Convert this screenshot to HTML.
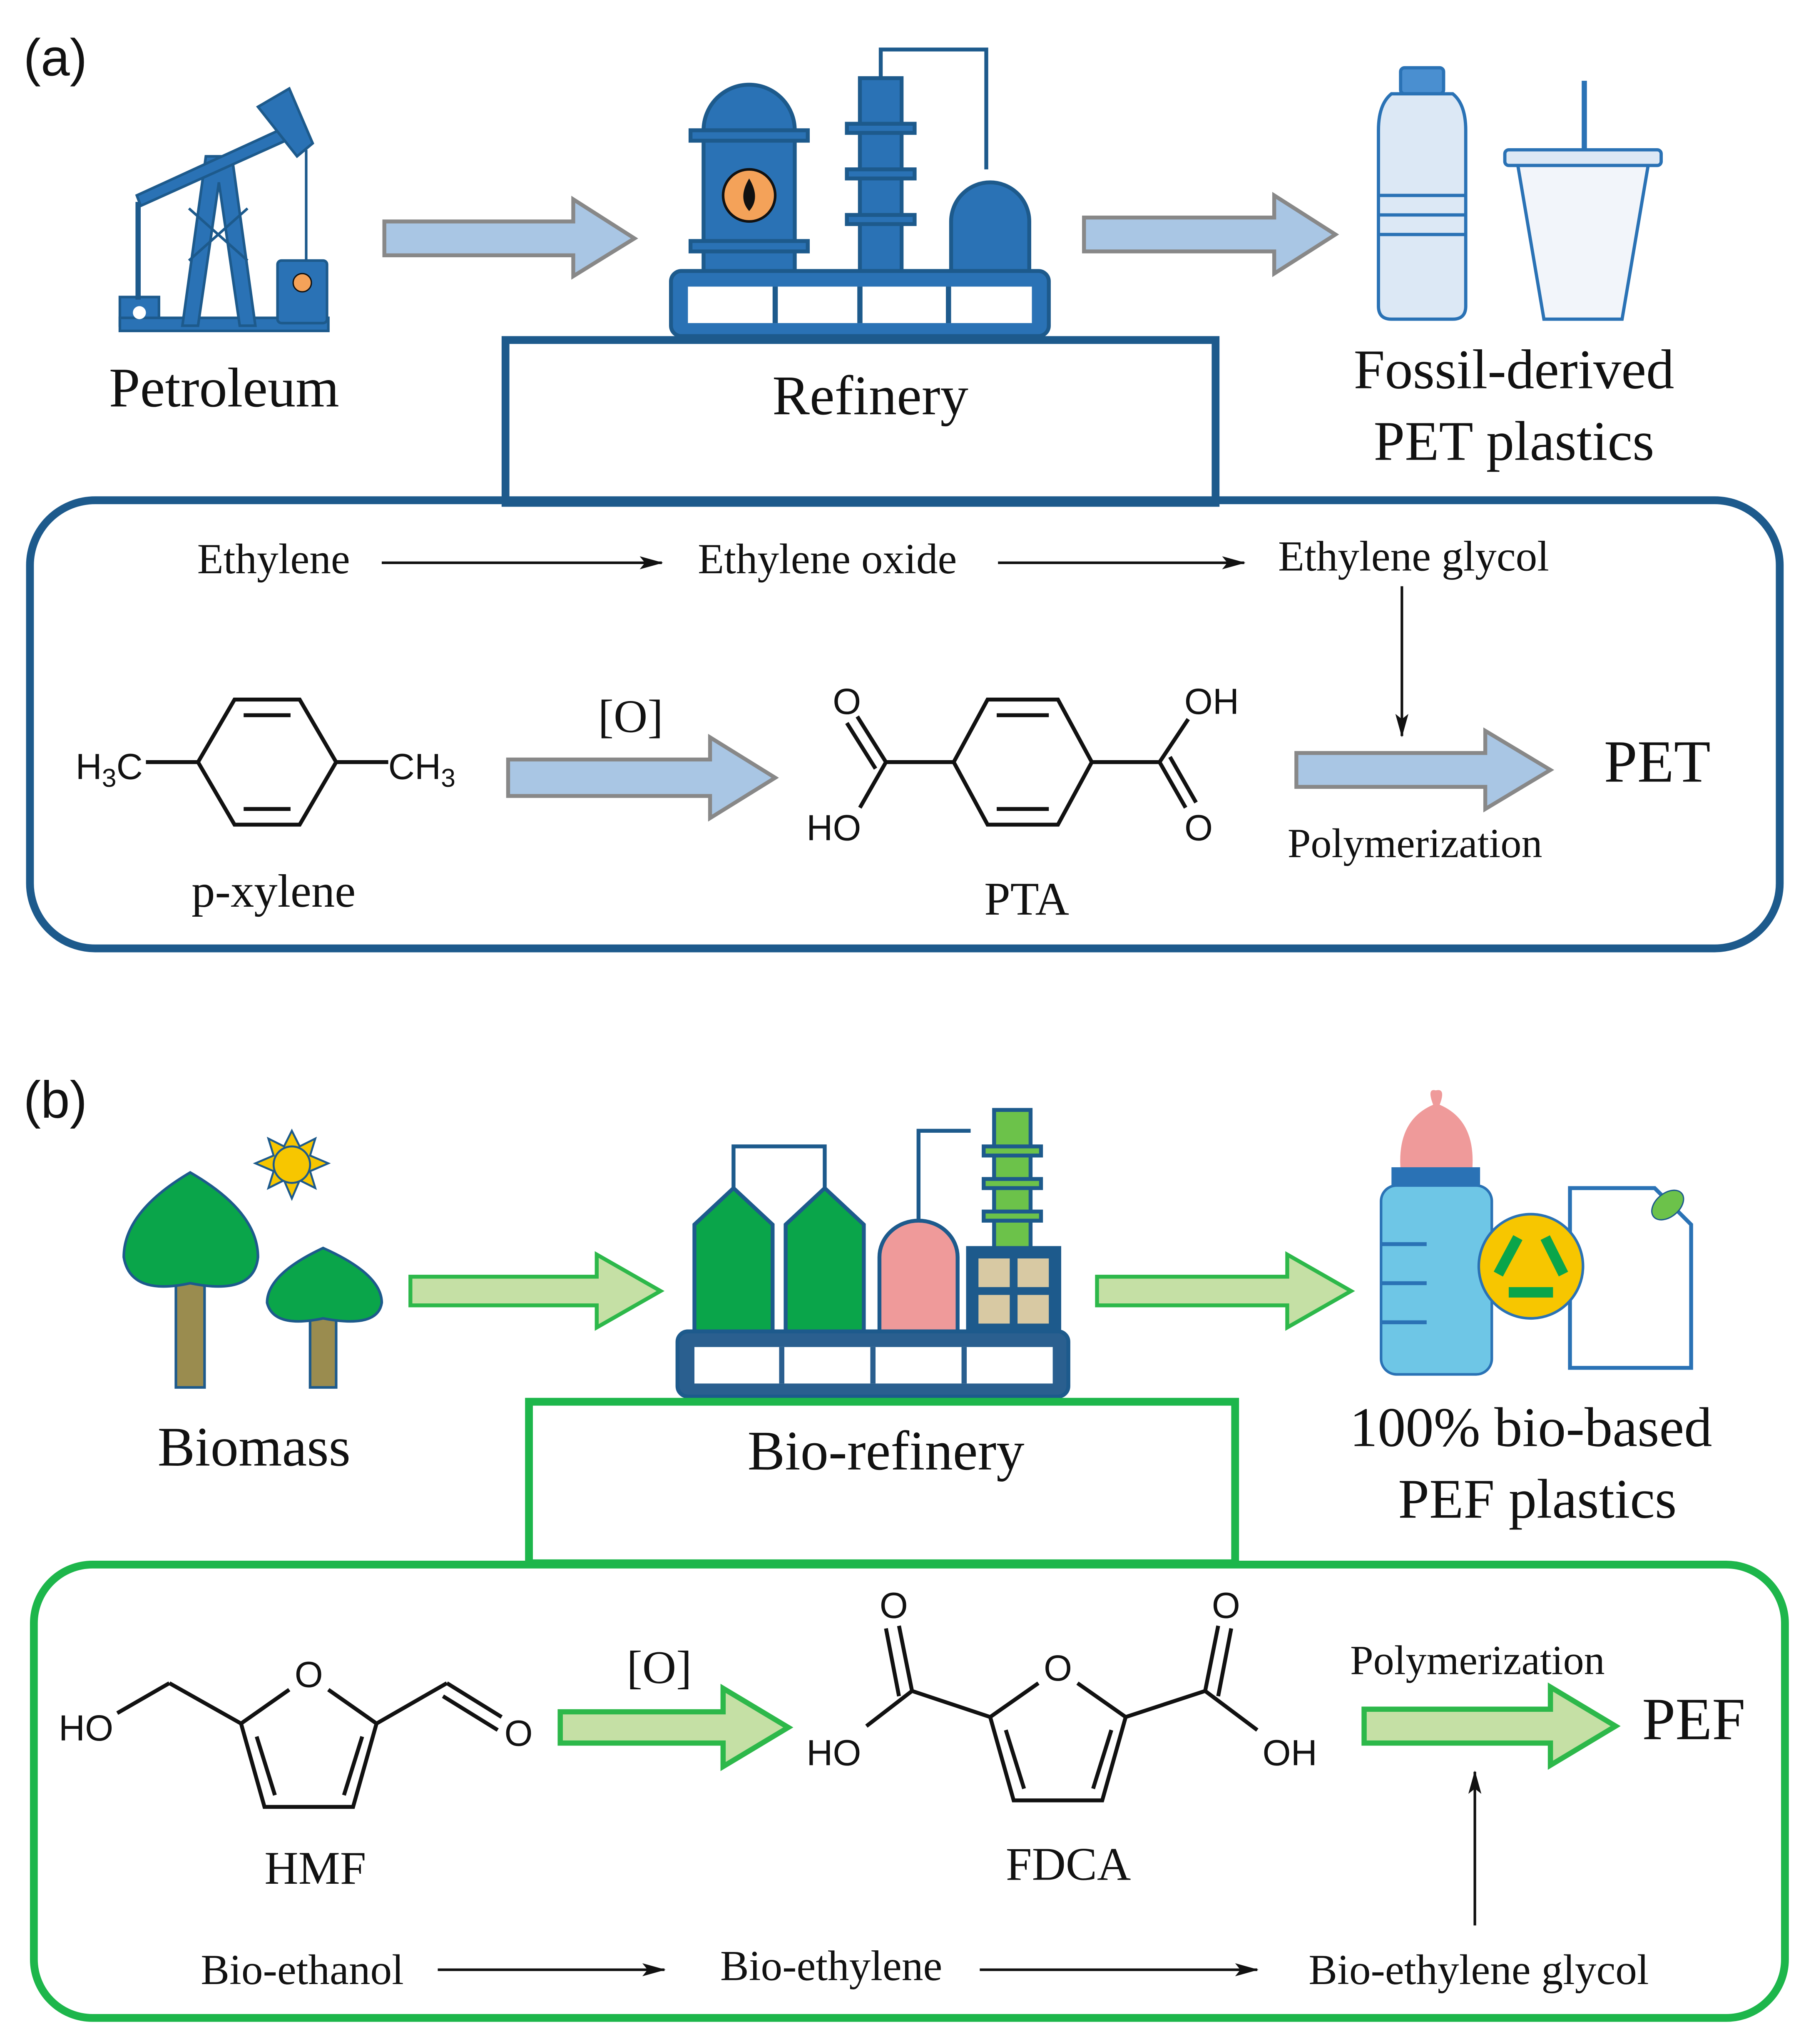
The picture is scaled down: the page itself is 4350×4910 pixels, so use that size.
<!DOCTYPE html>
<html><head><meta charset="utf-8"><style>
html,body{margin:0;padding:0;background:#fff}
svg{display:block}
.s{font-family:"Liberation Serif",serif;fill:#111}
.a{font-family:"Liberation Sans",sans-serif;fill:#111}
</style></head><body>
<svg width="4350" height="4910" viewBox="0 0 1390 1569" preserveAspectRatio="none" xmlns="http://www.w3.org/2000/svg">
<defs>
<marker id="ah" markerWidth="18" markerHeight="10" refX="17" refY="5" orient="auto" markerUnits="userSpaceOnUse"><path d="M0,0 L18,5 L0,10 L4,5 Z" fill="#111"/></marker>
</defs>
<rect width="1390" height="1569" fill="#fff"/>
<!-- (a) -->
<text x="18" y="58" class="a" font-size="40">(a)</text>
<g fill="#2a72b5" stroke="#1d5a8c" stroke-width="2">
<rect x="92" y="228" width="30" height="22"/>
<rect x="92" y="244" width="160" height="10"/>
<polygon points="140,250 158,120 178,120 196,250 184,250 168,140 152,250"/>
<line x1="145" y1="200" x2="190" y2="160"/><line x1="190" y1="200" x2="145" y2="160"/>
<polygon points="105,150 225,95 228,104 108,158"/>
<polygon points="198,82 222,68 240,110 228,120"/>
<line x1="106" y1="155" x2="106" y2="230" stroke-width="4"/>
<line x1="235" y1="115" x2="235" y2="200" stroke-width="2"/>
<rect x="213" y="200" width="38" height="48" rx="3"/>
</g>
<circle cx="232" cy="217" r="7" fill="#f4a259" stroke="#111"/>
<circle cx="107" cy="240" r="5" fill="#fff"/>
<polygon points="295,170 440,170 440,153 487,183 440,212 440,196 295,196" fill="#a9c6e4" stroke="#888" stroke-width="3"/>
<g fill="#2a72b5" stroke="#1d5a8c" stroke-width="3">
<path d="M540,210 V100 A35,35 0 0 1 610,100 V210 Z"/>
<rect x="530" y="100" width="90" height="8"/><rect x="530" y="185" width="90" height="8"/>
<rect x="660" y="60" width="32" height="150"/>
<rect x="650" y="95" width="52" height="7"/><rect x="650" y="130" width="52" height="7"/><rect x="650" y="165" width="52" height="7"/>
<path d="M730,210 V170 A30,30 0 1 1 790,170 V210 Z"/>
<rect x="515" y="208" width="290" height="50" rx="8"/>
</g>
<path d="M676,60 V38 H757 V130" fill="none" stroke="#1d5a8c" stroke-width="3"/>
<rect x="528" y="220" width="264" height="28" fill="#fff"/>
<g stroke="#1d5a8c" stroke-width="4"><line x1="595" y1="220" x2="595" y2="248"/><line x1="660" y1="220" x2="660" y2="248"/><line x1="728" y1="220" x2="728" y2="248"/></g>
<circle cx="575" cy="150" r="20" fill="#f4a259" stroke="#111" stroke-width="2"/>
<path d="M575,137 Q584,152 575,162 Q566,152 575,137Z" fill="#111"/>
<polygon points="832,167 978,167 978,150 1025,180 978,210 978,193 832,193" fill="#a9c6e4" stroke="#888" stroke-width="3"/>
<g fill="#dce8f5" stroke="#2a72b5" stroke-width="2.5">
<rect x="1075" y="52" width="33" height="20" rx="3" fill="#4a8fd0"/>
<path d="M1068,72 H1115 Q1125,80 1125,100 V235 Q1125,245 1115,245 H1068 Q1058,245 1058,235 V100 Q1058,80 1068,72Z"/>
<line x1="1058" y1="150" x2="1125" y2="150"/><line x1="1058" y1="165" x2="1125" y2="165"/><line x1="1058" y1="180" x2="1125" y2="180"/>
<rect x="1155" y="115" width="120" height="12" rx="3"/>
<polygon points="1165,127 1265,127 1245,245 1185,245" fill="#f2f5fa"/>
</g>
<line x1="1216" y1="62" x2="1216" y2="115" stroke="#2a72b5" stroke-width="4"/>
<text x="172" y="312" class="s" font-size="43" text-anchor="middle">Petroleum</text>
<rect x="388" y="261" width="545" height="125" fill="none" stroke="#1d5a8c" stroke-width="6"/>
<text x="668" y="318" class="s" font-size="43" text-anchor="middle">Refinery</text>
<text x="1162" y="298" class="s" font-size="43" text-anchor="middle">Fossil-derived</text>
<text x="1162" y="353" class="s" font-size="43" text-anchor="middle">PET plastics</text>
<rect x="23" y="384" width="1343" height="344" rx="50" fill="none" stroke="#1d5a8c" stroke-width="6"/>
<text x="210" y="440" class="s" font-size="33" text-anchor="middle">Ethylene</text>
<line x1="293" y1="432" x2="508" y2="432" stroke="#111" stroke-width="2" marker-end="url(#ah)"/>
<text x="635" y="440" class="s" font-size="33" text-anchor="middle">Ethylene oxide</text>
<line x1="766" y1="432" x2="955" y2="432" stroke="#111" stroke-width="2" marker-end="url(#ah)"/>
<text x="1085" y="438" class="s" font-size="33" text-anchor="middle">Ethylene glycol</text>
<line x1="1076" y1="450" x2="1076" y2="565" stroke="#111" stroke-width="2" marker-end="url(#ah)"/>
<g stroke="#111" stroke-width="3" fill="none">
<polygon points="152,585 180,537 230,537 258,585 230,633 180,633"/>
<line x1="187" y1="549" x2="223" y2="549"/><line x1="187" y1="621" x2="223" y2="621"/>
<line x1="112" y1="585" x2="152" y2="585"/><line x1="258" y1="585" x2="298" y2="585"/>
</g>
<text x="58" y="598" class="a" font-size="28">H<tspan font-size="20" dy="6">3</tspan><tspan dy="-6">C</tspan></text>
<text x="298" y="598" class="a" font-size="28">CH<tspan font-size="20" dy="6">3</tspan></text>
<text x="210" y="696" class="s" font-size="36" text-anchor="middle">p-xylene</text>
<text x="484" y="562" class="s" font-size="36" text-anchor="middle">[O]</text>
<polygon points="390,583 545,583 545,566 595,597 545,628 545,611 390,611" fill="#a9c6e4" stroke="#888" stroke-width="3"/>
<g stroke="#111" stroke-width="3" fill="none">
<polygon points="732,585 758,537 812,537 838,585 812,633 758,633"/>
<line x1="765" y1="549" x2="805" y2="549"/><line x1="765" y1="621" x2="805" y2="621"/>
<line x1="732" y1="585" x2="680" y2="585"/><line x1="680" y1="585" x2="658" y2="550"/><line x1="672" y1="590" x2="650" y2="555"/><line x1="680" y1="585" x2="660" y2="620"/>
<line x1="838" y1="585" x2="890" y2="585"/><line x1="890" y1="585" x2="912" y2="552"/><line x1="890" y1="585" x2="910" y2="620"/><line x1="898" y1="581" x2="918" y2="616"/>
</g>
<text x="650" y="548" class="a" font-size="28" text-anchor="middle">O</text>
<text x="640" y="645" class="a" font-size="28" text-anchor="middle">HO</text>
<text x="930" y="548" class="a" font-size="28" text-anchor="middle">OH</text>
<text x="920" y="645" class="a" font-size="28" text-anchor="middle">O</text>
<text x="788" y="702" class="s" font-size="36" text-anchor="middle">PTA</text>
<polygon points="995,578 1140,578 1140,561 1190,591 1140,621 1140,604 995,604" fill="#a9c6e4" stroke="#888" stroke-width="3"/>
<text x="1272" y="600" class="s" font-size="46" text-anchor="middle">PET</text>
<text x="1086" y="658" class="s" font-size="32" text-anchor="middle">Polymerization</text>

<!-- (b) -->
<text x="18" y="858" class="a" font-size="40">(b)</text>
<g stroke="#1d5a8c" stroke-width="2">
<rect x="135" y="970" width="22" height="95" fill="#9a8c4f"/>
<path d="M146,900 Q95,930 95,965 Q100,995 146,985 Q195,995 198,965 Q198,930 146,900Z" fill="#0aa54a"/>
<rect x="238" y="1005" width="20" height="60" fill="#9a8c4f"/>
<path d="M248,958 Q205,978 205,1000 Q210,1020 248,1012 Q290,1020 293,1000 Q293,978 248,958Z" fill="#0aa54a"/>
</g>
<g fill="#f7c600" stroke="#1d5a8c" stroke-width="1.5">
<polygon points="224,868 230,880 242,874 238,887 252,893 238,899 242,912 230,906 224,920 218,906 206,912 210,899 196,893 210,887 206,874 218,880"/>
<circle cx="224" cy="894" r="14"/>
</g>
<polygon points="315,980 458,980 458,963 507,991 458,1019 458,1002 315,1002" fill="#c5e0a5" stroke="#2db84a" stroke-width="3"/>
<path d="M563,940 V880 H633 V940 M705,950 V868 H745" fill="none" stroke="#1d5a8c" stroke-width="3"/>
<g stroke="#1d5a8c" stroke-width="3">
<polygon points="533,940 563,912 593,940 593,1025 533,1025" fill="#0aa54a"/>
<polygon points="603,940 633,912 663,940 663,1025 603,1025" fill="#0aa54a"/>
<path d="M675,1025 V965 A30,28 0 0 1 735,965 V1025Z" fill="#ef9a9a"/>
<rect x="763" y="852" width="28" height="110" fill="#6cc24a"/>
<rect x="755" y="880" width="44" height="7" fill="#6cc24a"/><rect x="755" y="905" width="44" height="7" fill="#6cc24a"/><rect x="755" y="930" width="44" height="7" fill="#6cc24a"/>
<rect x="743" y="958" width="70" height="67" fill="#1d5a8c"/>
<rect x="520" y="1022" width="300" height="50" rx="8" fill="#2a5f8f"/>
</g>
<g fill="#d8c9a3"><rect x="751" y="966" width="24" height="22"/><rect x="781" y="966" width="24" height="22"/><rect x="751" y="994" width="24" height="22"/><rect x="781" y="994" width="24" height="22"/></g>
<rect x="533" y="1034" width="275" height="28" fill="#fff"/>
<g stroke="#2a5f8f" stroke-width="4"><line x1="600" y1="1034" x2="600" y2="1062"/><line x1="670" y1="1034" x2="670" y2="1062"/><line x1="740" y1="1034" x2="740" y2="1062"/></g>
<polygon points="842,980 988,980 988,963 1037,991 988,1019 988,1002 842,1002" fill="#c5e0a5" stroke="#2db84a" stroke-width="3"/>
<path d="M1075,898 Q1072,860 1100,848 Q1095,835 1102,837 Q1110,835 1105,848 Q1133,860 1130,898Z" fill="#ef9a9a"/>
<rect x="1068" y="896" width="68" height="14" fill="#2a72b5"/>
<rect x="1060" y="910" width="85" height="145" rx="12" fill="#6ec6e6" stroke="#2a72b5" stroke-width="2"/>
<g stroke="#2a72b5" stroke-width="3"><line x1="1060" y1="955" x2="1095" y2="955"/><line x1="1060" y1="985" x2="1095" y2="985"/><line x1="1060" y1="1015" x2="1095" y2="1015"/></g>
<path d="M1205,912 H1270 L1298,940 V1050 H1205Z" fill="#fff" stroke="#2a72b5" stroke-width="3"/>
<ellipse cx="1280" cy="925" rx="14" ry="9" transform="rotate(-40 1280 925)" fill="#6cc24a" stroke="#1d5a8c"/>
<circle cx="1175" cy="972" r="40" fill="#f7c600" stroke="#2a72b5" stroke-width="2"/>
<g fill="none" stroke="#0aa54a" stroke-width="8">
<path d="M1165,950 L1150,978"/><path d="M1186,950 L1200,978"/><path d="M1158,992 H1192"/>
</g>
<text x="195" y="1125" class="s" font-size="43" text-anchor="middle">Biomass</text>
<rect x="406" y="1076" width="542" height="124" fill="none" stroke="#1db64b" stroke-width="6"/>
<text x="680" y="1128" class="s" font-size="43" text-anchor="middle">Bio-refinery</text>
<text x="1175" y="1110" class="s" font-size="43" text-anchor="middle">100% bio-based</text>
<text x="1180" y="1165" class="s" font-size="43" text-anchor="middle">PEF plastics</text>
<rect x="26" y="1201" width="1344" height="348" rx="45" fill="none" stroke="#1db64b" stroke-width="6"/>
<g stroke="#111" stroke-width="3" fill="none">
<polyline points="222,1297 185,1323 203,1387 271,1387 289,1323 252,1297"/>
<line x1="197" y1="1333" x2="211" y2="1378"/><line x1="278" y1="1333" x2="264" y2="1378"/>
<line x1="185" y1="1323" x2="130" y2="1292"/><line x1="130" y1="1292" x2="90" y2="1315"/>
<line x1="289" y1="1323" x2="343" y2="1292"/><line x1="343" y1="1292" x2="385" y2="1318"/><line x1="340" y1="1302" x2="382" y2="1328"/>
</g>
<text x="237" y="1295" class="a" font-size="28" text-anchor="middle">O</text>
<text x="66" y="1336" class="a" font-size="28" text-anchor="middle">HO</text>
<text x="398" y="1340" class="a" font-size="28" text-anchor="middle">O</text>
<text x="242" y="1446" class="s" font-size="36" text-anchor="middle">HMF</text>
<text x="506" y="1292" class="s" font-size="36" text-anchor="middle">[O]</text>
<polygon points="430,1314 555,1314 555,1296 605,1326 555,1356 555,1338 430,1338" fill="#c5e0a5" stroke="#2db84a" stroke-width="4"/>
<g stroke="#111" stroke-width="3" fill="none">
<polyline points="797,1292 760,1318 778,1382 846,1382 864,1318 827,1292"/>
<line x1="772" y1="1328" x2="786" y2="1373"/><line x1="853" y1="1328" x2="839" y2="1373"/>
<line x1="760" y1="1318" x2="700" y2="1298"/><line x1="700" y1="1298" x2="665" y2="1325"/><line x1="700" y1="1298" x2="690" y2="1248"/><line x1="690" y1="1302" x2="680" y2="1250"/>
<line x1="864" y1="1318" x2="925" y2="1298"/><line x1="925" y1="1298" x2="965" y2="1328"/><line x1="925" y1="1298" x2="935" y2="1248"/><line x1="935" y1="1302" x2="945" y2="1250"/>
</g>
<text x="812" y="1290" class="a" font-size="28" text-anchor="middle">O</text>
<text x="686" y="1242" class="a" font-size="28" text-anchor="middle">O</text>
<text x="640" y="1355" class="a" font-size="28" text-anchor="middle">HO</text>
<text x="941" y="1242" class="a" font-size="28" text-anchor="middle">O</text>
<text x="990" y="1355" class="a" font-size="28" text-anchor="middle">OH</text>
<text x="820" y="1443" class="s" font-size="36" text-anchor="middle">FDCA</text>
<text x="1134" y="1285" class="s" font-size="32" text-anchor="middle">Polymerization</text>
<polygon points="1047,1312 1190,1312 1190,1295 1240,1325 1190,1355 1190,1338 1047,1338" fill="#c5e0a5" stroke="#2db84a" stroke-width="4"/>
<text x="1300" y="1335" class="s" font-size="46" text-anchor="middle">PEF</text>
<line x1="1132" y1="1478" x2="1132" y2="1360" stroke="#111" stroke-width="2" marker-end="url(#ah)"/>
<text x="232" y="1523" class="s" font-size="33" text-anchor="middle">Bio-ethanol</text>
<line x1="336" y1="1512" x2="510" y2="1512" stroke="#111" stroke-width="2" marker-end="url(#ah)"/>
<text x="638" y="1520" class="s" font-size="33" text-anchor="middle">Bio-ethylene</text>
<line x1="752" y1="1512" x2="965" y2="1512" stroke="#111" stroke-width="2" marker-end="url(#ah)"/>
<text x="1135" y="1523" class="s" font-size="33" text-anchor="middle">Bio-ethylene glycol</text>
</svg>
</body></html>
